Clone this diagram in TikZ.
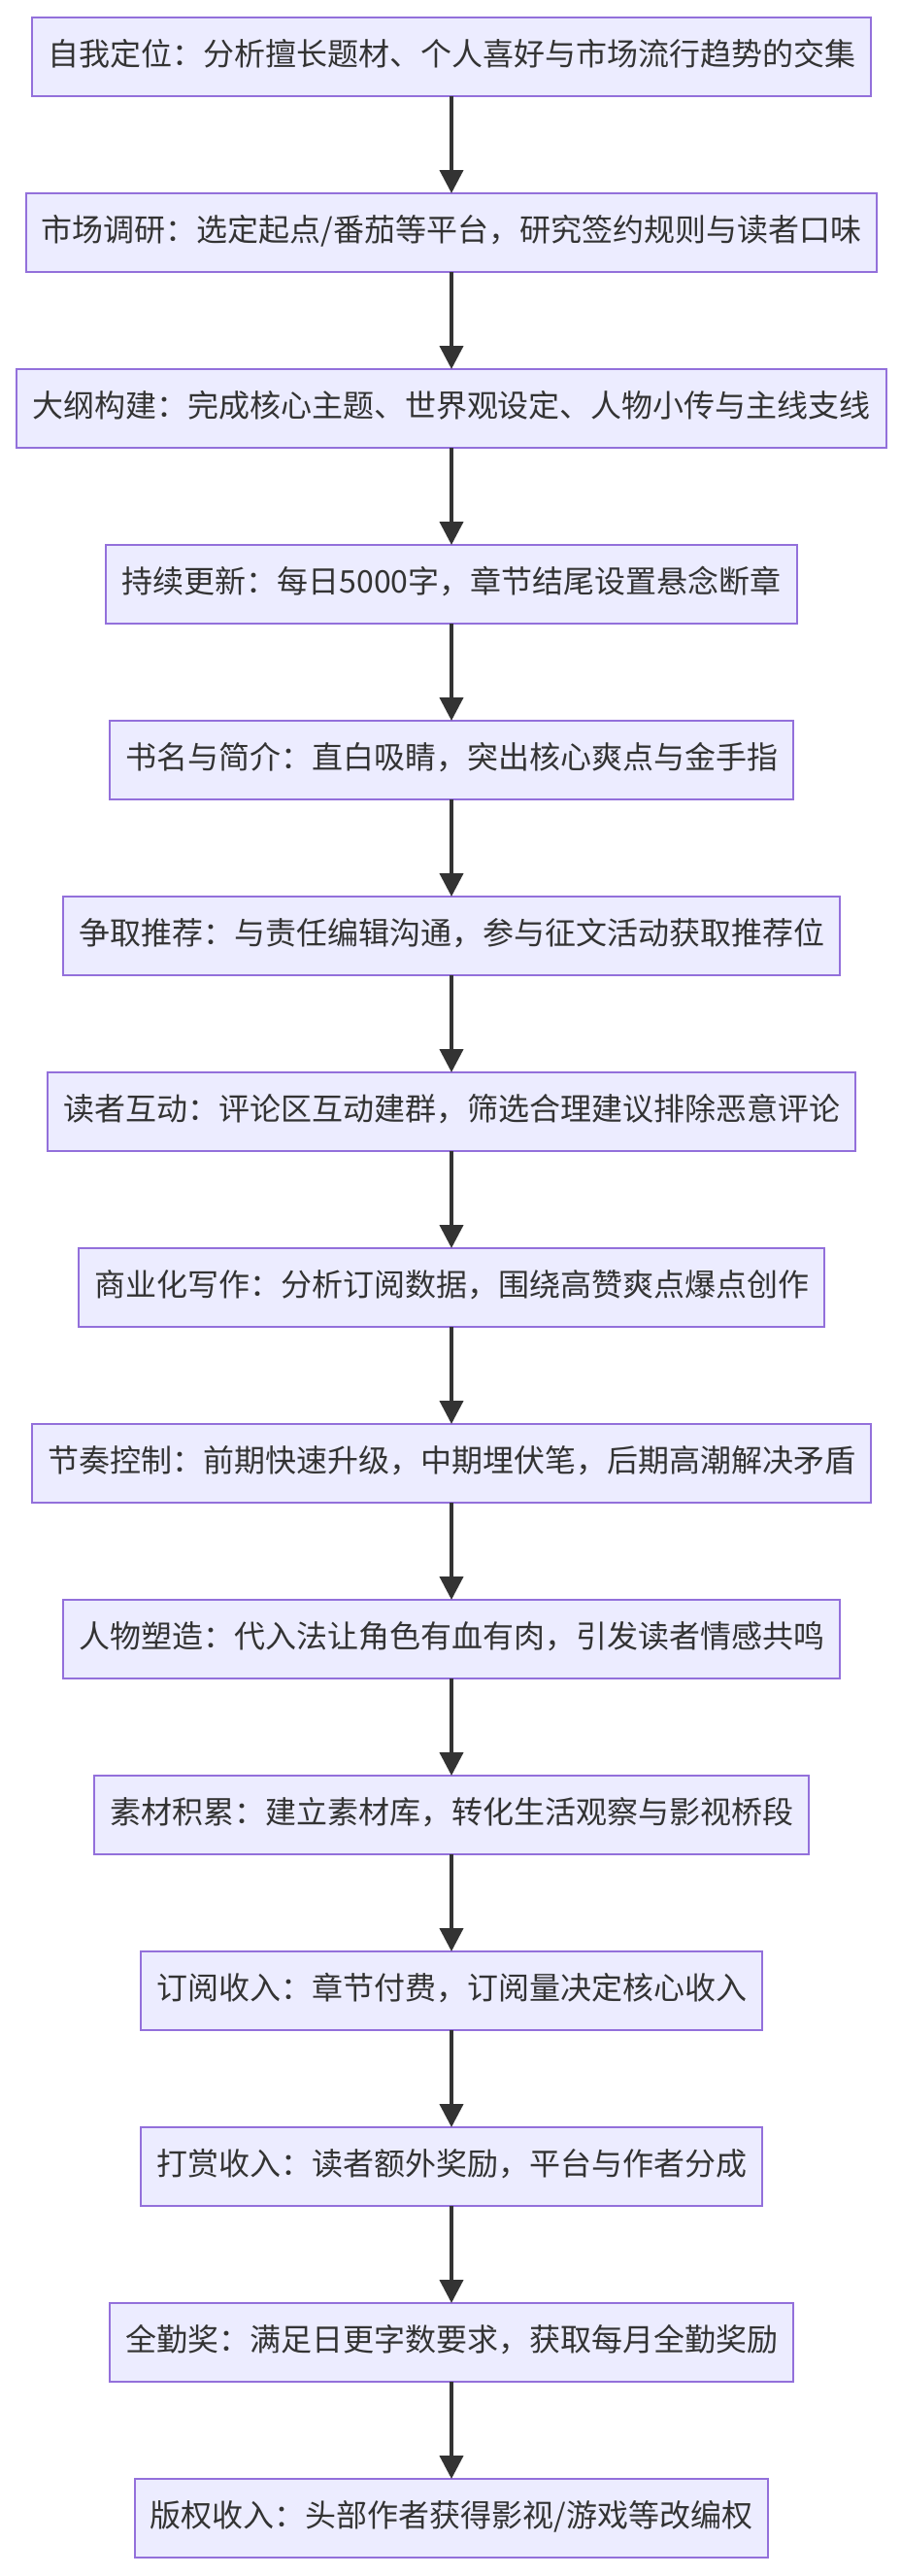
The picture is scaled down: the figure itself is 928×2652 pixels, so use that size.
\documentclass[tikz,border=0pt]{standalone}
\usepackage{fontspec}
\setmainfont{Noto Sans CJK SC}
\usepackage{tikz}
\usetikzlibrary{arrows.meta,positioning}

\definecolor{boxfill}{HTML}{ECECFF}
\definecolor{boxline}{HTML}{9370DB}
\definecolor{ink}{HTML}{333333}

\begin{document}
\begin{tikzpicture}[
  stage/.style={rectangle, draw=boxline, fill=boxfill, line width=2pt,
    minimum height=81pt, inner xsep=16pt, inner ysep=0pt, outer sep=0pt,
    text height=24pt, text depth=6pt, text=ink,
    font=\fontsize{32}{36}\selectfont},
  arr/.style={-{Triangle[length=24pt, width=24pt]}, line width=4pt, ink},
  node distance=100pt
]
\useasboundingbox (0,0) rectangle (928pt,-2652pt);

\node[stage] (s1) at (465pt,-58.5pt) {自我定位：分析擅长题材、个人喜好与市场流行趋势的交集};
\node[stage, below=of s1]  (s2)  {市场调研：选定起点/番茄等平台，研究签约规则与读者口味};
\node[stage, below=of s2]  (s3)  {大纲构建：完成核心主题、世界观设定、人物小传与主线支线};
\node[stage, below=of s3]  (s4)  {持续更新：每日5000字，章节结尾设置悬念断章};
\node[stage, below=of s4]  (s5)  {书名与简介：直白吸睛，突出核心爽点与金手指};
\node[stage, below=of s5]  (s6)  {争取推荐：与责任编辑沟通，参与征文活动获取推荐位};
\node[stage, below=of s6]  (s7)  {读者互动：评论区互动建群，筛选合理建议排除恶意评论};
\node[stage, below=of s7]  (s8)  {商业化写作：分析订阅数据，围绕高赞爽点爆点创作};
\node[stage, below=of s8]  (s9)  {节奏控制：前期快速升级，中期埋伏笔，后期高潮解决矛盾};
\node[stage, below=of s9]  (s10) {人物塑造：代入法让角色有血有肉，引发读者情感共鸣};
\node[stage, below=of s10] (s11) {素材积累：建立素材库，转化生活观察与影视桥段};
\node[stage, below=of s11] (s12) {订阅收入：章节付费，订阅量决定核心收入};
\node[stage, below=of s12] (s13) {打赏收入：读者额外奖励，平台与作者分成};
\node[stage, below=of s13] (s14) {全勤奖：满足日更字数要求，获取每月全勤奖励};
\node[stage, below=of s14] (s15) {版权收入：头部作者获得影视/游戏等改编权};

\foreach \a/\b in {s1/s2,s2/s3,s3/s4,s4/s5,s5/s6,s6/s7,s7/s8,s8/s9,
  s9/s10,s10/s11,s11/s12,s12/s13,s13/s14,s14/s15} {
  \draw[arr] (\a) -- (\b);
}
\end{tikzpicture}
\end{document}
